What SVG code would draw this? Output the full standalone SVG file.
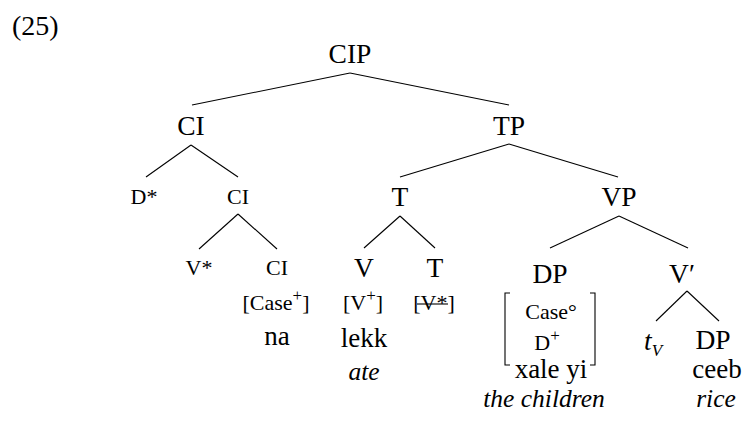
<svg xmlns="http://www.w3.org/2000/svg" width="746" height="426" viewBox="0 0 746 426">
<style>
text{font-family:"Liberation Serif","Times New Roman",serif;fill:#000;text-anchor:middle}
.L{font-size:27.5px}
.G{font-size:27px}
.S{font-size:22px}
.I{font-style:italic;font-size:25.5px}
.sup{font-size:17px}
#connectors line,.br{stroke:#000;stroke-width:1.1;fill:none}
</style>
<rect width="746" height="426" fill="#fff"/>
<text x="12" y="35" style="font-size:28px;text-anchor:start">(25)</text>
<g id="connectors">
<line x1="350" y1="73" x2="192" y2="105"/>
<line x1="350" y1="73" x2="509" y2="105"/>
<line x1="191" y1="145" x2="146" y2="177"/>
<line x1="191" y1="145" x2="238" y2="177"/>
<line x1="509" y1="144" x2="400" y2="177"/>
<line x1="509" y1="144" x2="618" y2="177"/>
<line x1="238" y1="214" x2="199" y2="249"/>
<line x1="238" y1="214" x2="277" y2="249"/>
<line x1="400" y1="216" x2="364" y2="248"/>
<line x1="400" y1="216" x2="435" y2="248"/>
<line x1="619" y1="216" x2="550" y2="248"/>
<line x1="619" y1="216" x2="688" y2="248"/>
<line x1="687" y1="291" x2="656" y2="321"/>
<line x1="687" y1="291" x2="719" y2="321"/>
</g>
<g id="n-CIP"><text class="L" x="350" y="63">CIP</text></g>
<g id="n-CI1"><text class="L" x="191" y="135">CI</text></g>
<g id="n-TP"><text class="L" x="509" y="135">TP</text></g>
<g id="n-Dstar"><text class="S" x="144" y="204">D*</text></g>
<g id="n-CI2"><text class="S" x="238" y="204">CI</text></g>
<g id="n-T1"><text class="L" x="400" y="206">T</text></g>
<g id="n-VP"><text class="L" x="619" y="206">VP</text></g>
<g id="n-Vstar"><text class="S" x="199" y="275">V*</text></g>
<g id="n-CI3">
<text class="S" x="277" y="275">CI</text>
<text class="S" x="276" y="310">[Case<tspan class="sup" dy="-9">+</tspan><tspan dy="9">]</tspan></text>
<text class="G" x="277" y="345">na</text>
</g>
<g id="n-V">
<text class="L" x="364" y="277">V</text>
<text class="S" x="363" y="310">[V<tspan class="sup" dy="-9">+</tspan><tspan dy="9">]</tspan></text>
<text class="G" x="364" y="347">lekk</text>
<text class="I" x="364" y="380">ate</text>
</g>
<g id="n-T2">
<text class="L" x="435" y="277">T</text>
<text class="S" x="434" y="310">[V*]</text>
<line x1="417" y1="304" x2="448" y2="304" stroke="#000" stroke-width="1.1"/>
</g>
<g id="n-DP1">
<text class="L" x="550" y="283">DP</text>
<path class="br" d="M510,293 H505 V365 H510"/>
<path class="br" d="M590,293 H595 V365 H590"/>
<text class="S" x="551" y="319">Case°</text>
<text class="S" x="547" y="350">D<tspan class="sup" dy="-9">+</tspan></text>
<text class="G" x="551" y="378">xale yi</text>
<text class="I" x="544" y="407">the children</text>
</g>
<g id="n-Vbar"><text class="L" x="682" y="283">V′</text></g>
<g id="n-tV"><text class="L" x="653" y="350" style="font-style:italic">t<tspan class="sup" dy="6">V</tspan></text></g>
<g id="n-DP2">
<text class="L" x="713" y="349">DP</text>
<text class="G" x="717" y="378">ceeb</text>
<text class="I" x="716" y="407">rice</text>
</g>
</svg>
